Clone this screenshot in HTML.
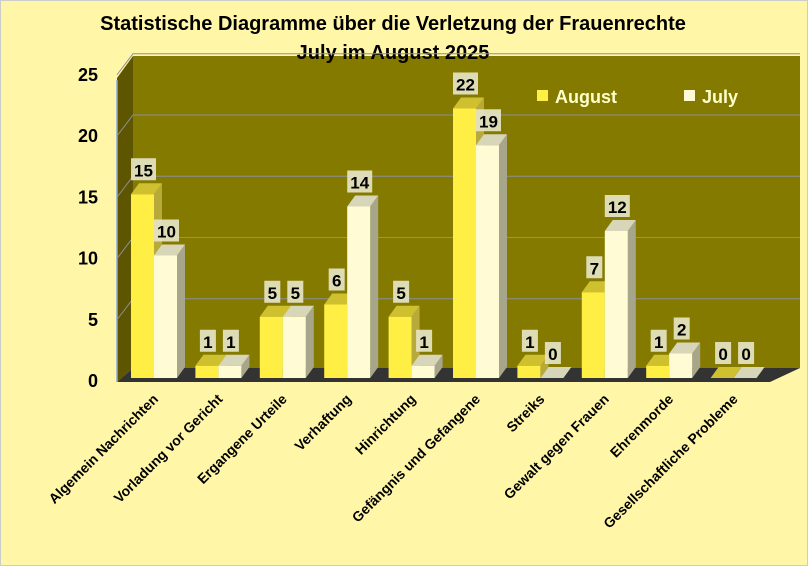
<!DOCTYPE html>
<html><head><meta charset="utf-8"><style>
body{margin:0;background:#FFF6A8;}
svg{display:block;font-family:"Liberation Sans",Arial,sans-serif;}
</style></head><body>
<svg id="chart" width="808" height="566" viewBox="0 0 808 566">
<rect x="0.5" y="0.5" width="807" height="565" fill="#FFF6A8" stroke="#ccc"/>
<polygon points="133,56 800,56 800,368 133,368" fill="#857A00"/>
<polygon points="117,78 133,56 133,368 117,382" fill="#5E5500"/>
<polygon points="117,382 133,368 800,368 770,382" fill="#333"/>
<line x1="117" y1="80" x2="117" y2="382" stroke="#8EA9DB" stroke-width="1.5"/>
<text x="393" y="30" text-anchor="middle" font-size="20" font-weight="bold">Statistische Diagramme über die Verletzung der Frauenrechte</text>
<text x="393" y="59" text-anchor="middle" font-size="20" font-weight="bold">July im August 2025</text>
<g id="grid"></g><g id="yticks"></g><g id="bars"></g><g id="xlabels"></g>
<g>
<g><rect x="537" y="90" width="11" height="11" fill="#FFEE44"/><text x="555" y="103" font-size="18" font-weight="bold" fill="#FFFFCC">August</text></g>
<g><rect x="684" y="90" width="11" height="11" fill="#FFFCD5"/><text x="702" y="103" font-size="18" font-weight="bold" fill="#FFFFCC">July</text></g>
</g>
</svg>
<script>
const categories=["Algemein Nachrichten","Vorladung vor Gericht","Ergangene Urteile","Verhaftung","Hinrichtung","Gefängnis und Gefangene","Streiks","Gewalt gegen Frauen","Ehrenmorde","Gesellschaftliche Probleme"];
const august=[15,1,5,6,5,22,1,7,1,0];
const july=[10,1,5,14,1,19,0,12,2,0];
const yTicks=[0,5,10,15,20,25];
const NS="http://www.w3.org/2000/svg";
const base=378, unit=12.25, x0=154, step=64.4, bw=23, dx=8, dy=-11;
const y=v=>base-v*unit;
function mk(tag,attrs,parent){const e=document.createElementNS(NS,tag);for(const k in attrs)e.setAttribute(k,attrs[k]);parent.appendChild(e);return e;}
const grid=document.getElementById('grid'),yt=document.getElementById('yticks'),bars=document.getElementById('bars'),xl=document.getElementById('xlabels');
yTicks.forEach(t=>{
 if(t>0){const l=mk('polyline',{points:`117,${y(t)+3} 133,${y(t)-18} 800,${y(t)-18}`,fill:'none',stroke:'#8a8f9a','stroke-width':1},grid);
 
 }
 const tx=mk('text',{x:98,y:y(t)+9,'text-anchor':'end','font-size':18,'font-weight':'bold'},yt);tx.textContent=t;
 
 
});
function bar(v,x,front,top,side,name){
 const g=mk('g',{},bars);
 
 
 const yt=y(v);
 mk('polygon',{points:`${x+bw},${yt} ${x+bw+dx},${yt+dy} ${x+bw+dx},${base+dy} ${x+bw},${base}`,fill:side},g);
 mk('polygon',{points:`${x},${yt} ${x+dx},${yt+dy} ${x+bw+dx},${yt+dy} ${x+bw},${yt}`,fill:top},g);
 mk('rect',{x:x,y:yt,width:bw,height:base-yt,fill:front},g);
 const w=String(v).length>1?25:16;
 mk('rect',{x:x+bw/2-w/2+1,y:yt-36,width:w,height:22,fill:'#E6E4C4','fill-opacity':0.92},g);
 const t=mk('text',{x:x+bw/2+1,y:yt-18,'text-anchor':'middle','font-size':17,'font-weight':'bold'},g);t.textContent=v;
}
categories.forEach((c,i)=>{
 const cx=x0+i*step;
 bar(august[i],cx-bw,'#FFEE44','#CFC030','#B8AA3A','bar-august-'+i);
 bar(july[i],cx,'#FFFCD5','#D8D6B8','#A8A68A','bar-july-'+i);
 const t=mk('text',{x:cx+5,y:400,'text-anchor':'end','font-size':14,'font-weight':'bold',transform:`rotate(-45 ${cx+5} 400)`},xl);
 t.textContent=c;
 
 
});
</script>
</body></html>
